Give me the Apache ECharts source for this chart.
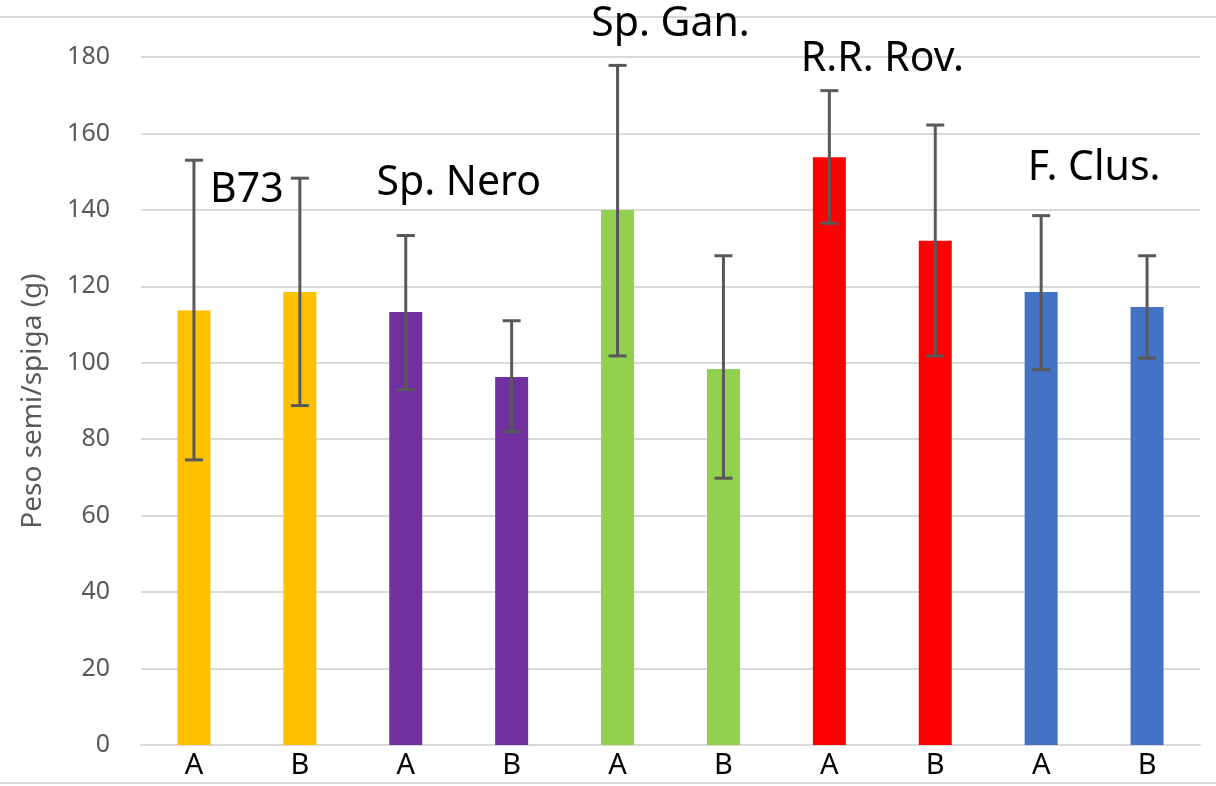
<!DOCTYPE html>
<html>
<head>
<meta charset="utf-8">
<script src="https://cdn.jsdelivr.net/npm/echarts@6/dist/echarts.min.js"></script>
<style>
  html, body { margin: 0; padding: 0; background: #fff; }
  #main { width: 1216px; height: 786px; }
</style>
</head>
<body>
<div id="main"></div>
<script>
const myChart = echarts.init(document.getElementById('main'))

// dati
const categories = ['A', 'B', 'A', 'B', 'A', 'B', 'A', 'B', 'A', 'B']
const values = [113.7, 118.5, 113.3, 96.3, 140, 98.4, 153.8, 131.9, 118.5, 114.6]
const errLow = [74.6, 88.8, 93, 82, 101.8, 69.8, 136.5, 101.8, 98.2, 101.2]
const errHigh = [153, 148.3, 133.3, 111, 177.8, 128, 171.2, 162.2, 138.5, 128]
const colors = ['#FFC000', '#FFC000', '#7030A0', '#7030A0', '#92D050', '#92D050', '#FF0000', '#FF0000', '#4472C4', '#4472C4']
// etichette dei gruppi: [indice prima barra, y, testo]
const groupLabels = [
  [0, 145, 'B73'],
  [2, 147, 'Sp. Nero'],
  [4, 188.5, 'Sp. Gan.'],
  [6, 179.5, 'R.R. Rov.'],
  [8, 151, 'F. Clus.'],
]

var option = {
  animation: false,
  textStyle: { fontFamily: 'Noto Sans' },
  grid: { left: 141, right: 16, top: 57, bottom: 41 },
  graphic: [
    { type: 'line', shape: { x1: 0, y1: 17, x2: 1216, y2: 17 }, style: { stroke: '#d9d9d9', lineWidth: 2 } },
    { type: 'line', shape: { x1: 0, y1: 783, x2: 1216, y2: 783 }, style: { stroke: '#d9d9d9', lineWidth: 2 } },
  ],
  xAxis: {
    type: 'category',
    data: categories,
    axisLine: { lineStyle: { color: '#d9d9d9', width: 2 } },
    axisTick: { show: false },
    axisLabel: { color: '#000', fontSize: 29, margin: 6 },
  },
  yAxis: {
    type: 'value',
    min: 0,
    max: 180,
    interval: 20,
    name: 'Peso semi/spiga (g)',
    nameLocation: 'middle',
    nameGap: 94,
    nameTextStyle: { color: '#595959', fontSize: 28 },
    axisLine: { show: false },
    axisTick: { show: false },
    axisLabel: { color: '#595959', fontSize: 25, margin: 31 },
    splitLine: { lineStyle: { color: '#d9d9d9', width: 2 } },
  },
  series: [
    {
      type: 'bar',
      barWidth: 33,
      data: values.map((v, i) => ({ value: v, itemStyle: { color: colors[i] } })),
    },
    {
      type: 'custom',
      data: errLow.map((lo, i) => [i, lo, errHigh[i]]),
      renderItem: function (params, api) {
        const i = api.value(0)
        const lo = api.coord([i, api.value(1)])
        const hi = api.coord([i, api.value(2)])
        const w = 9
        const st = { stroke: '#595959', lineWidth: 3 }
        return {
          type: 'group',
          children: [
            { type: 'line', shape: { x1: lo[0], y1: lo[1], x2: hi[0], y2: hi[1] }, style: st },
            { type: 'line', shape: { x1: lo[0] - w, y1: lo[1], x2: lo[0] + w, y2: lo[1] }, style: st },
            { type: 'line', shape: { x1: hi[0] - w, y1: hi[1], x2: hi[0] + w, y2: hi[1] }, style: st },
          ],
        }
      },
      z: 3,
    },
    {
      type: 'custom',
      clip: false,
      data: groupLabels,
      renderItem: function (params, api) {
        const i = api.value(0)
        const y = api.value(1)
        const p1 = api.coord([i, y])
        const p2 = api.coord([i + 1, y])
        return {
          type: 'text',
          x: (p1[0] + p2[0]) / 2,
          y: p1[1],
          style: {
            text: groupLabels[params.dataIndex][2],
            fill: '#000',
            font: '41px "Noto Sans"',
            align: 'center',
            verticalAlign: 'middle',
          },
        }
      },
      z: 4,
    },
  ],
}

myChart.setOption(option)
</script>
</body>
</html>
